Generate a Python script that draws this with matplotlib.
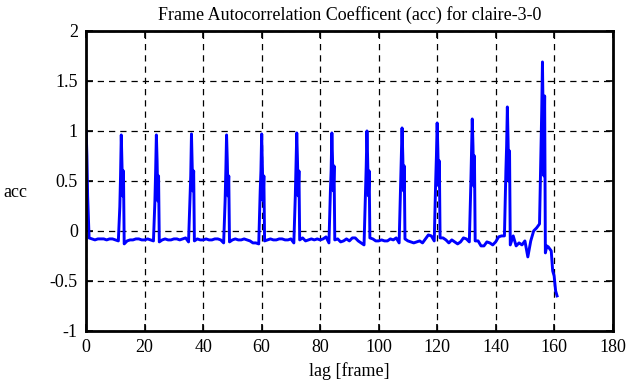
import matplotlib.pyplot as plt
import numpy as np

plt.rcParams['font.family'] = ['Liberation Serif', 'DejaVu Serif']
plt.rcParams['axes.unicode_minus'] = False

# lag [frame] and autocorrelation coefficient
lag = [0, 0.25, 0.5, 1, 2, 3, 4, 5, 6, 7, 8, 9, 10, 11,
       11.5, 11.75, 12, 12.25, 12.5, 12.75, 13,
       14, 15, 16, 17, 18, 19, 20, 21, 22, 23,
       23.5, 23.75, 24, 24.25, 24.5, 24.75, 25,
       26, 27, 28, 29, 30, 31, 32, 33, 34, 35,
       35.5, 35.75, 36, 36.25, 36.5, 36.75, 37,
       38, 39, 40, 41, 42, 43, 44, 45, 46, 47,
       47.5, 47.75, 48, 48.25, 48.5, 48.75, 49,
       50, 51, 52, 53, 54, 55, 56, 57, 58, 59,
       59.5, 59.75, 60, 60.25, 60.5, 60.75, 61,
       62, 63, 64, 65, 66, 67, 68, 69, 70, 71,
       71.5, 71.75, 72, 72.25, 72.5, 72.75, 73,
       74, 75, 76, 77, 78, 79, 80, 81, 82, 83,
       83.5, 83.75, 84, 84.25, 84.5, 84.75, 85,
       86, 87, 88, 89, 90, 91, 92, 93, 94, 95,
       95.5, 95.75, 96, 96.25, 96.5, 96.75, 97,
       98, 99, 100, 101, 102, 103, 104, 105, 106, 107,
       107.5, 107.75, 108, 108.25, 108.5, 108.75, 109,
       110, 111, 112, 113, 114, 115, 116, 117, 118, 119,
       119.5, 119.75, 120, 120.25, 120.5, 120.75, 121,
       122, 123, 124, 125, 126, 127, 128, 129, 130, 131,
       131.5, 131.75, 132, 132.25, 132.5, 132.75, 133,
       134, 135, 136, 137, 138, 139, 140, 141, 142, 143,
       143.5, 143.75, 144, 144.25, 144.5, 144.75, 145,
       146, 147, 148, 149, 150, 151, 152, 153, 154, 155,
       155.5, 155.75, 156, 156.25, 156.5, 156.75, 157,
       157.5, 158, 158.5, 159, 159.5, 160, 160.5, 161]

acc = [1.00, 0.75, 0.35, -0.07, -0.08, -0.09, -0.08, -0.08, -0.08, -0.09, -0.08, -0.08, -0.09, -0.10,
       0.24, 0.55, 0.96, 0.65, 0.35, 0.60, -0.13,
       -0.10, -0.09, -0.09, -0.08, -0.08, -0.09, -0.09, -0.08, -0.09, -0.10,
       0.30, 0.60, 0.96, 0.70, 0.30, 0.55, -0.11,
       -0.09, -0.08, -0.09, -0.09, -0.08, -0.08, -0.09, -0.08, -0.07, -0.11,
       0.35, 0.55, 0.97, 0.65, 0.40, 0.60, -0.10,
       -0.08, -0.09, -0.09, -0.08, -0.09, -0.09, -0.08, -0.08, -0.09, -0.12,
       0.30, 0.60, 0.96, 0.70, 0.35, 0.55, -0.11,
       -0.09, -0.08, -0.09, -0.09, -0.08, -0.09, -0.10, -0.12, -0.12, -0.13,
       0.40, 0.60, 0.97, 0.65, 0.30, 0.55, -0.10,
       -0.09, -0.08, -0.09, -0.09, -0.08, -0.08, -0.09, -0.09, -0.08, -0.12,
       0.35, 0.65, 0.98, 0.70, 0.35, 0.60, -0.09,
       -0.07, -0.10, -0.09, -0.08, -0.09, -0.08, -0.09, -0.08, -0.06, -0.12,
       0.40, 0.60, 0.98, 0.70, 0.40, 0.65, -0.09,
       -0.08, -0.11, -0.10, -0.08, -0.10, -0.07, -0.07, -0.10, -0.12, -0.14,
       0.40, 0.65, 1.00, 0.70, 0.35, 0.60, -0.07,
       -0.08, -0.10, -0.10, -0.09, -0.10, -0.10, -0.08, -0.09, -0.07, -0.12,
       0.45, 0.70, 1.03, 0.75, 0.40, 0.65, -0.08,
       -0.10, -0.11, -0.12, -0.11, -0.10, -0.12, -0.08, -0.04, -0.05, -0.10,
       0.50, 0.75, 1.08, 0.80, 0.45, 0.70, -0.07,
       -0.07, -0.09, -0.12, -0.09, -0.11, -0.13, -0.11, -0.07, -0.08, -0.11,
       0.45, 0.80, 1.12, 0.85, 0.45, 0.75, -0.10,
       -0.10, -0.15, -0.15, -0.11, -0.12, -0.14, -0.11, -0.06, -0.05, -0.05,
       0.60, 0.85, 1.24, 0.90, 0.50, 0.80, -0.14,
       -0.05, -0.15, -0.12, -0.14, -0.10, -0.26, -0.10, 0.00, 0.03, 0.07,
       0.80, 1.20, 1.69, 1.10, 0.55, 1.35, -0.22,
       -0.15, -0.16, -0.18, -0.20, -0.40, -0.45, -0.60, -0.65]

xticks = np.arange(0, 181, 20)
yticks = [-1, -0.5, 0, 0.5, 1, 1.5, 2]
ytick_labels = ['-1', '-0.5', '0', '0.5', '1', '1.5', '2']

fig = plt.figure(figsize=(6.29, 3.87), dpi=100)
ax = fig.add_axes([0.137, 0.145, 0.837, 0.775])

ax.plot(lag, acc, color='#0000ff', linewidth=2.1)

ax.set_xlim(0, 180)
ax.set_ylim(-1, 2)
ax.set_xticks(xticks)
ax.set_yticks(yticks)
ax.set_yticklabels(ytick_labels)

ax.grid(True, color='black', linestyle=(0, (5, 4)), linewidth=0.9)
for s in ax.spines.values():
    s.set_linewidth(2)
ax.tick_params(direction='in', length=5, width=1.2, top=True, right=True,
               labelsize=13, pad=6)

ax.set_title('Frame Autocorrelation Coefficent (acc) for claire-3-0', fontsize=13, pad=8)
ax.set_xlabel('lag [frame]', fontsize=13, labelpad=4)
ax.set_ylabel('acc', fontsize=13, rotation=0, va='center', ha='center')
ax.yaxis.set_label_coords(-0.135, 0.46)

fig.savefig('out.png', dpi=100)
